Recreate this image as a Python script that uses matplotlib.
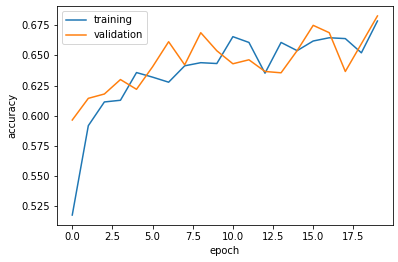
import matplotlib
matplotlib.use('Agg')
import matplotlib.pyplot as plt
import numpy as np

# Valores
epochs = list(range(20))
training = [0.5175, 0.5917, 0.6114, 0.6128, 0.6358, 0.6320, 0.6278, 0.6414,
            0.6440, 0.6433, 0.6656, 0.6608, 0.6353, 0.6608, 0.6540, 0.6620,
            0.6647, 0.6640, 0.6522, 0.6786]
validation = [0.5964, 0.6144, 0.6180, 0.6300, 0.6219, 0.6406, 0.6614, 0.6422,
              0.6689, 0.6539, 0.6431, 0.6464, 0.6367, 0.6356, 0.6540, 0.6750,
              0.6689, 0.6367, 0.6597, 0.6828]

fig = plt.figure(figsize=(398 / 72, 262 / 72), dpi=72)
ax = fig.add_axes([57 / 398, 1 - 225 / 262, (392.7 - 57) / 398, (225 - 6) / 262])

ax.plot(epochs, training, label='training')
ax.plot(epochs, validation, label='validation')

ax.set_xlabel('epoch')
ax.set_ylabel('accuracy')
ax.legend(loc='upper left')

fig.savefig('out.png', dpi=72)
